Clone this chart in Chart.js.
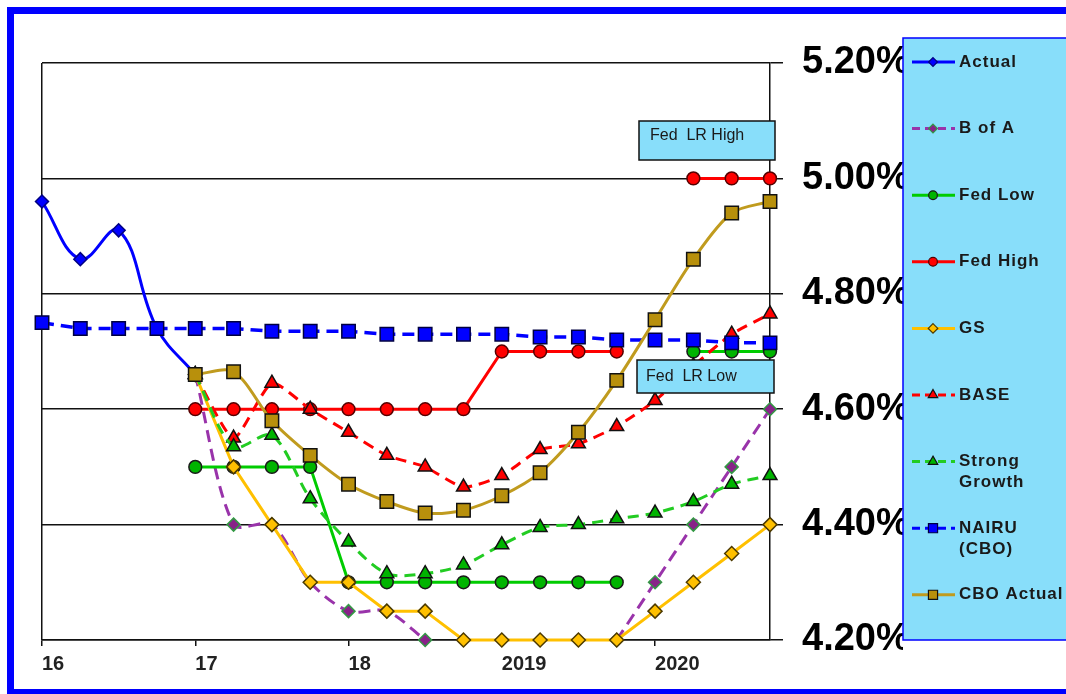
<!DOCTYPE html>
<html>
<head>
<meta charset="utf-8">
<title>Unemployment forecasts</title>
<script src="https://cdn.jsdelivr.net/npm/chart.js@4.4.1/dist/chart.umd.min.js"></script>
<style>
    html, body { margin: 0; padding: 0; background: #fff; overflow: hidden; }
    #wrap { position: relative; width: 1066px; height: 694px; }
    #wrap canvas { position: absolute; left: 0; top: 0; }
    #frame {
        position: absolute; left: 7px; top: 7px; width: 1200px; height: 689px;
        box-sizing: border-box; border: 7px solid #0000ff; pointer-events: none;
    }
</style>
</head>
<body>
<div id="wrap">
    <canvas id="chart" width="1066" height="694"></canvas>
    <div id="frame"></div>
</div>
<script>
// quarterly points, 2016 Q1 .. 2020 Q4
const quarters = [
    '2016 Q1', '2016 Q2', '2016 Q3', '2016 Q4',
    '2017 Q1', '2017 Q2', '2017 Q3', '2017 Q4',
    '2018 Q1', '2018 Q2', '2018 Q3', '2018 Q4',
    '2019 Q1', '2019 Q2', '2019 Q3', '2019 Q4',
    '2020 Q1', '2020 Q2', '2020 Q3', '2020 Q4'
];
const tickLabels = ['16', '', '', '', '17', '', '', '', '18', '', '', '', '2019', '', '', '', '2020', '', '', ''];

const actual       = [4.96, 4.86, 4.91, 4.74, 4.66, null, null, null, null, null, null, null, null, null, null, null, null, null, null, null];
const bofa         = [null, null, null, null, 4.66, 4.40, 4.40, 4.30, 4.25, 4.25, 4.20, null, null, null, null, 4.20, 4.30, 4.40, 4.50, 4.60];
const fedLow       = [null, null, null, null, 4.50, 4.50, 4.50, 4.50, 4.30, 4.30, 4.30, 4.30, 4.30, 4.30, 4.30, 4.30, null, 4.70, 4.70, 4.70];
const fedHigh      = [null, null, null, null, 4.60, 4.60, 4.60, 4.60, 4.60, 4.60, 4.60, 4.60, 4.70, 4.70, 4.70, 4.70, null, 5.00, 5.00, 5.00];
const gs           = [null, null, null, null, 4.66, 4.50, 4.40, 4.30, 4.30, 4.25, 4.25, 4.20, 4.20, 4.20, 4.20, 4.20, 4.25, 4.30, 4.35, 4.40];
const base         = [null, null, null, null, 4.66, 4.55, 4.645, 4.60, 4.56, 4.52, 4.50, 4.465, 4.485, 4.53, 4.54, 4.57, 4.615, 4.675, 4.73, 4.765];
const strongGrowth = [null, null, null, null, 4.66, 4.535, 4.555, 4.445, 4.37, 4.315, 4.315, 4.33, 4.365, 4.395, 4.40, 4.41, 4.42, 4.44, 4.47, 4.485];
const nairu        = [4.75, 4.74, 4.74, 4.74, 4.74, 4.74, 4.735, 4.735, 4.735, 4.73, 4.73, 4.73, 4.73, 4.725, 4.725, 4.72, 4.72, 4.72, 4.715, 4.715];
const cboActual    = [null, null, null, null, 4.66, 4.665, 4.58, 4.52, 4.47, 4.44, 4.42, 4.425, 4.45, 4.49, 4.56, 4.65, 4.755, 4.86, 4.94, 4.96];

const FONT = '"Liberation Sans", Arial, Helvetica, sans-serif';
const BOX_BLUE = '#88defa';

const datasets = [
    { label: 'Actual', data: actual, borderColor: '#0000ff', borderWidth: 3, tension: 0.4,
      pointStyle: 'rectRot', pointRadius: 6.5, pointBackgroundColor: '#0000ff', pointBorderColor: '#000080' },
    { label: 'B of A', data: bofa, borderColor: '#9933aa', borderWidth: 3, borderDash: [12, 7], tension: 0.3,
      pointStyle: 'rectRot', pointRadius: 6.5, pointBackgroundColor: '#882288', pointBorderColor: '#339944' },
    { label: 'Fed Low', data: fedLow, borderColor: '#00cc00', borderWidth: 3,
      pointStyle: 'circle', pointRadius: 6.4, pointBackgroundColor: '#00b400', pointBorderColor: '#1a1a1a' },
    { label: 'Fed High', data: fedHigh, borderColor: '#ff0000', borderWidth: 3,
      pointStyle: 'circle', pointRadius: 6.4, pointBackgroundColor: '#ff0000', pointBorderColor: '#550000' },
    { label: 'GS', data: gs, borderColor: '#ffc000', borderWidth: 3,
      pointStyle: 'rectRot', pointRadius: 7, pointBackgroundColor: '#ffc000', pointBorderColor: '#4d3a00' },
    { label: 'BASE', data: base, borderColor: '#ff0000', borderWidth: 3, borderDash: [11, 7], tension: 0.2,
      pointStyle: 'triangle', pointRadius: 8, pointBackgroundColor: '#ff0000', pointBorderColor: '#111' },
    { label: ['Strong', 'Growth'], data: strongGrowth, borderColor: '#22cc22', borderWidth: 3, borderDash: [11, 7], tension: 0.3,
      pointStyle: 'triangle', pointRadius: 8, pointBackgroundColor: '#00b400', pointBorderColor: '#111' },
    { label: ['NAIRU', '(CBO)'], data: nairu, borderColor: '#0000ff', borderWidth: 3.5, borderDash: [12, 7],
      pointStyle: 'rect', pointRadius: 9.5, pointBackgroundColor: '#0000ff', pointBorderColor: '#000040' },
    { label: 'CBO Actual', data: cboActual, borderColor: '#c09b1e', borderWidth: 3, tension: 0.3,
      pointStyle: 'rect', pointRadius: 9.5, pointBackgroundColor: '#b8900c', pointBorderColor: '#111' }
];
// later series sit on top, like the original
datasets.forEach(function (d, i) {
    d.order = datasets.length - i;
    d.fill = false;
    d.clip = false;
    d.pointBorderWidth = 1.5;
    d.pointHoverRadius = d.pointRadius;
});

// text boxes on the plot
const notes = [
    { text: 'Fed  LR High', x: 639, y: 121, w: 136, h: 39, tx: 650, ty: 136 },
    { text: 'Fed  LR Low', x: 637, y: 360, w: 137, h: 33, tx: 646, ty: 377 }
];

function drawMarker(ctx, style, x, y, r, fill, stroke, bw) {
    ctx.beginPath();
    if (style === 'circle') {
        ctx.arc(x, y, r, 0, Math.PI * 2);
    } else if (style === 'rect') {
        const s = r * Math.SQRT1_2;
        ctx.rect(x - s, y - s, 2 * s, 2 * s);
    } else if (style === 'rectRot') {
        ctx.moveTo(x, y - r); ctx.lineTo(x + r, y); ctx.lineTo(x, y + r); ctx.lineTo(x - r, y); ctx.closePath();
    } else if (style === 'triangle') {
        ctx.moveTo(x, y - r); ctx.lineTo(x + r * 0.866, y + r * 0.5); ctx.lineTo(x - r * 0.866, y + r * 0.5); ctx.closePath();
    }
    ctx.fillStyle = fill;
    ctx.fill();
    ctx.lineWidth = bw;
    ctx.strokeStyle = stroke;
    ctx.stroke();
}

const notesPlugin = {
    id: 'notes',
    afterDatasetsDraw(chart) {
        const ctx = chart.ctx;
        ctx.save();
        notes.forEach(function (n) {
            ctx.fillStyle = BOX_BLUE;
            ctx.fillRect(n.x, n.y, n.w, n.h);
            ctx.lineWidth = 1.5;
            ctx.strokeStyle = '#111';
            ctx.strokeRect(n.x, n.y, n.w, n.h);
            ctx.fillStyle = '#1a1a1a';
            ctx.font = '16px ' + FONT;
            ctx.textBaseline = 'middle';
            ctx.textAlign = 'left';
            ctx.fillText(n.text, n.tx, n.ty);
        });
        ctx.restore();
    }
};

// legend box on the right, drawn over the tick labels
const legendPlugin = {
    id: 'boxLegend',
    afterDraw(chart) {
        const ctx = chart.ctx;
        const left = 903, top = 38, bottom = 640, firstY = 62, step = 66.6;
        ctx.save();
        ctx.fillStyle = BOX_BLUE;
        ctx.fillRect(left, top, 200, bottom - top);
        ctx.lineWidth = 1.5;
        ctx.strokeStyle = '#0000ff';
        ctx.strokeRect(left, top, 200, bottom - top);

        chart.data.datasets.forEach(function (d, i) {
            const y = firstY + step * i;
            ctx.beginPath();
            ctx.setLineDash(d.borderDash ? [8, 5] : []);
            ctx.lineWidth = 3;
            ctx.strokeStyle = d.borderColor;
            ctx.moveTo(912, y);
            ctx.lineTo(955, y);
            ctx.stroke();
            ctx.setLineDash([]);
            drawMarker(ctx, d.pointStyle, 933, y, d.pointRadius * 0.68,
                d.pointBackgroundColor, d.pointBorderColor, 1.2);

            const lines = Array.isArray(d.label) ? d.label : [d.label];
            ctx.fillStyle = '#1a1a1a';
            ctx.font = 'bold 17px ' + FONT;
            ctx.textBaseline = 'middle';
            ctx.textAlign = 'left';
            if ('letterSpacing' in ctx) ctx.letterSpacing = '1px';
            lines.forEach(function (t, k) {
                ctx.fillText(t, 959, y + k * 21);
            });
        });
        ctx.restore();
    }
};

Chart.defaults.font.family = FONT;

new Chart(document.getElementById('chart').getContext('2d'), {
    type: 'line',
    data: { labels: quarters, datasets: datasets },
    options: {
        responsive: false,
        animation: false,
        layout: { padding: { left: 42, top: 63, right: 163, bottom: 0 } },
        plugins: { legend: { display: false }, tooltip: { enabled: false } },
        scales: {
            x: {
                afterFit: function (scale) { scale.height = 54; },
                grid: {
                    drawOnChartArea: true,
                    color: ctx => ctx.index === 0 ? '#111' : 'transparent',
                    tickColor: ctx => tickLabels[ctx.index] ? '#111' : 'transparent',
                    lineWidth: 1.5,
                    tickLength: 6
                },
                border: { display: true, color: '#111', width: 1.5 },
                ticks: {
                    autoSkip: false,
                    maxRotation: 0,
                    minRotation: 0,
                    align: 'start',
                    padding: 6,
                    color: '#222',
                    font: { size: 20, weight: 'bold' },
                    callback: (v, i) => tickLabels[i]
                }
            },
            y: {
                position: 'right',
                min: 4.2,
                max: 5.2,
                afterFit: function (scale) { scale.width = 133; },
                grid: { color: '#111', lineWidth: 1.5, tickLength: 13 },
                border: { display: true, color: '#111', width: 1.5 },
                ticks: {
                    stepSize: 0.2,
                    padding: 19,
                    color: '#000',
                    font: { size: 38, weight: 'bold' },
                    callback: v => v.toFixed(2) + '%'
                }
            }
        }
    },
    plugins: [notesPlugin, legendPlugin]
});
</script>
</body>
</html>
